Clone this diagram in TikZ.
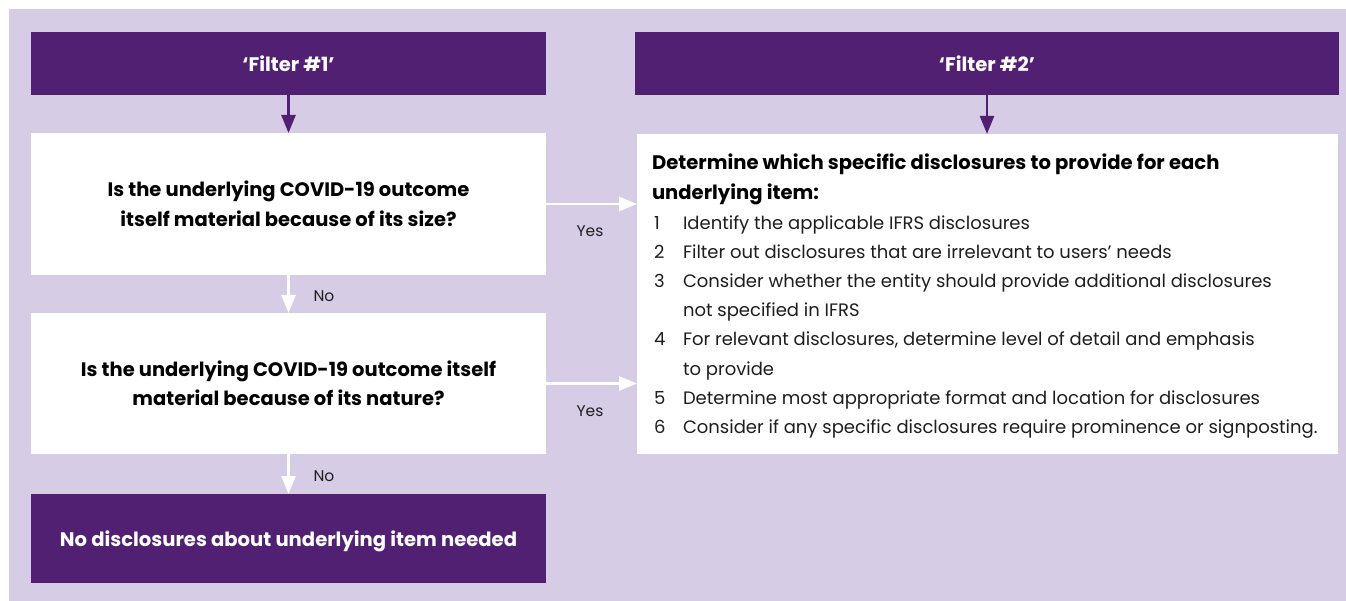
\documentclass[tikz,border=0pt]{standalone}
\usepackage{fontspec}
\setmainfont{Poppins}
\usetikzlibrary{arrows.meta}
\definecolor{kpurple}{RGB}{82,32,114}
\definecolor{klilac}{RGB}{214,204,230}
\definecolor{ktext}{RGB}{30,30,30}
\begin{document}
\begin{tikzpicture}[x=1pt,y=-1pt,
  every node/.style={inner sep=0pt, outer sep=0pt},
  pbox/.style={fill=kpurple, text=white, align=center, font=\fontsize{19.6}{30}\selectfont\bfseries},
  wbox/.style={fill=white, text=black, align=center, font=\fontsize{19.5}{29.5}\selectfont\bfseries},
  item/.style={font=\fontsize{18}{21}\selectfont, anchor=base west, text=ktext},
  ttl/.style={font=\fontsize{19.6}{21}\selectfont\bfseries, anchor=base west, text=black},
  lab/.style={font=\fontsize{15.5}{19}\selectfont, anchor=base west, text=ktext},
  parrow/.style={kpurple, line width=2.5pt, -{Triangle[length=18pt,width=14pt]}},
  warrow/.style={white, line width=2.5pt, -{Triangle[length=18pt,width=14pt]}}]
\useasboundingbox (0,0) rectangle (1346,601);
\fill[white] (0,0) rectangle (1346,601);
\fill[klilac] (9,9) rectangle (1346,601);
% boxes
\node[pbox, minimum width=515pt, minimum height=63pt] (f1) at (288.5,63.5) {‘Filter \#1’};
\node[pbox, minimum width=704pt, minimum height=63pt] (f2) at (987,63.5) {‘Filter \#2’};
\node[wbox, minimum width=515pt, minimum height=142pt] (q1) at (288.5,204) {Is the underlying COVID-19 outcome\\itself material because of its size?};
\node[wbox, minimum width=515pt, minimum height=141pt] (q2) at (288.5,383.5) {Is the underlying COVID-19 outcome itself\\material because of its nature?};
\node[pbox, text depth=0pt, minimum width=515pt, minimum height=89pt] (nod) at (288.5,538.5) {No disclosures about underlying item needed};
\node[fill=white, minimum width=701pt, minimum height=320pt] (list) at (987.5,294) {};
% list text
\node[ttl] (tt1) at (652,170) {Determine which specific disclosures to provide for each};
\node[ttl] (tt2) at (652,199.3) {underlying item:};
\node[item] (n1) at (654,229.3) {1};
\node[item] (t1) at (683,229.3) {Identify the applicable IFRS disclosures};
\node[item] (n2) at (654,258.4) {2};
\node[item] (t2) at (683,258.4) {Filter out disclosures that are irrelevant to users’ needs};
\node[item] (n3) at (654,287.6) {3};
\node[item] (t3) at (683,287.6) {Consider whether the entity should provide additional disclosures};
\node[item] (t3b) at (683,316.7) {not specified in IFRS};
\node[item] (n4) at (654,345.9) {4};
\node[item] (t4) at (683,345.9) {For relevant disclosures, determine level of detail and emphasis};
\node[item] (t4b) at (683,375) {to provide};
\node[item] (n5) at (654,404.2) {5};
\node[item] (t5) at (683,404.2) {Determine most appropriate format and location for disclosures};
\node[item] (n6) at (654,433.3) {6};
\node[item] (t6) at (683,433.3) {Consider if any specific disclosures require prominence or signposting.};
% connectors
\draw[parrow] (f1.south) -- (q1.north);
\draw[parrow] (f2.south) -- (f2.south |- list.north);
\draw[warrow] (q1.south) -- (q2.north);
\draw[warrow] (q2.south) -- (nod.north);
\draw[warrow] (q1.east) -- (q1.east -| list.west);
\draw[warrow] (q2.east) -- (q2.east -| list.west);
% labels
\node[lab] (no1) at (313.5,301.7) {No};
\node[lab] (no2) at (313.5,481) {No};
\node[lab] (yes1) at (576.6,237) {Yes};
\node[lab] (yes2) at (576.6,416) {Yes};
\end{tikzpicture}
\end{document}
